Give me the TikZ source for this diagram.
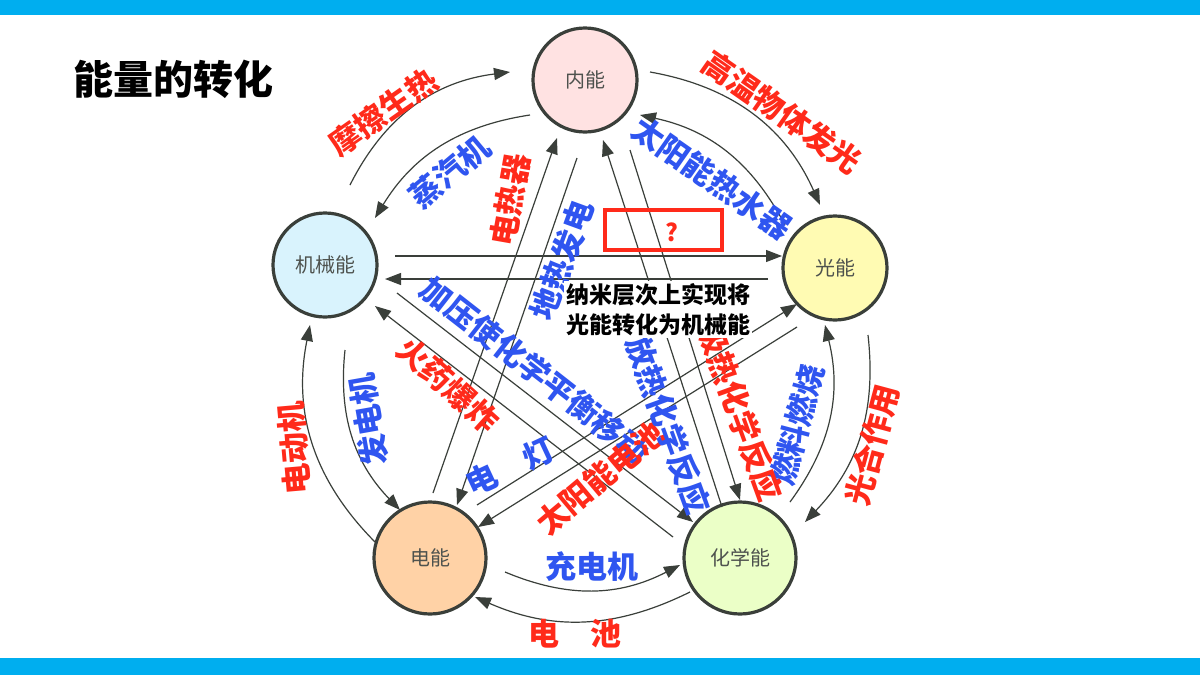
\documentclass[tikz,border=0pt]{standalone}
\usepackage{fontspec}
\setmainfont{Noto Sans CJK SC}
\usetikzlibrary{arrows.meta}
\definecolor{bar}{HTML}{00AEEF}
\definecolor{lr}{HTML}{FF2A1A}
\definecolor{lb}{HTML}{2F55F0}
\definecolor{ln}{HTML}{3A3F3A}
\tikzset{
  en/.style={circle,draw=ln,line width=1.6pt,minimum size=52pt,inner sep=0pt,font=\fontsize{10}{12}\selectfont,text=ln!90},
  arr/.style={draw=ln,line width=0.6pt,-{Triangle[length=8pt,width=6pt]}},
  rl/.style={text=lr,font=\fontsize{15.5}{16}\selectfont\bfseries},
  bl/.style={text=lb,font=\fontsize{15.5}{16}\selectfont\bfseries},
}
\begin{document}
\begin{tikzpicture}[x=0.5pt,y=-0.5pt]
\useasboundingbox (0,0) rectangle (1200,675);
\fill[white] (0,0) rectangle (1200,675);
\fill[bar] (0,0) rectangle (1200,15);
\fill[bar] (0,658) rectangle (1200,675);
\node[anchor=west,font=\fontsize{20}{22}\selectfont\bfseries] (title) at (66,79) {能量的转化};
% energy nodes
\node[en,fill=pink!45] (nei) at (585,80) {内能};
\node[en,fill=cyan!15] (ji) at (325,265) {机械能};
\node[en,fill=yellow!30] (guang) at (835,268) {光能};
\node[en,fill=orange!35,minimum size=56pt] (dian) at (430,558) {电能};
\node[en,fill=green!35!yellow!22,minimum size=56pt] (hua) at (740,558) {化学能};
% coordinates
\coordinate (a1) at (350,185); \coordinate (a2) at (510,72);
\coordinate (b1) at (530,115); \coordinate (b2) at (375,218);
\coordinate (c1) at (650,72); \coordinate (c2) at (820,205);
\coordinate (d1) at (785,225); \coordinate (d2) at (640,115);
\coordinate (e1) at (868,335); \coordinate (e2) at (805,522);
\coordinate (f1) at (790,502); \coordinate (f2) at (825,325);
\coordinate (g1) at (690,592); \coordinate (g2) at (475,597);
\coordinate (h1) at (505,572); \coordinate (h2) at (680,565);
\coordinate (i1) at (375,542); \coordinate (i2) at (310,325);
\coordinate (j1) at (345,350); \coordinate (j2) at (400,510);
% arcs
\draw[arr] (a1) to[bend left=28] (a2);
\draw[arr] (b1) to[bend right=25] (b2);
\draw[arr] (c1) to[bend left=28] (c2);
\draw[arr] (d1) to[bend right=25] (d2);
\draw[arr] (e1) to[bend left=25] (e2);
\draw[arr] (f1) to[bend right=25] (f2);
\draw[arr] (g1) to[bend left=25] (g2);
\draw[arr] (h1) to[bend right=25] (h2);
\draw[arr] (i1) to[bend left=28] (i2);
\draw[arr] (j1) to[bend right=25] (j2);
% straight
\coordinate (s1) at (395,256); \coordinate (s2) at (782,256);
\coordinate (t1) at (768,279); \coordinate (t2) at (385,279);
\draw[arr] (s1) -- (s2);
\draw[arr] (t1) -- (t2);
\coordinate (u1) at (433,493); \coordinate (u2) at (557,138);
\coordinate (v1) at (577,158); \coordinate (v2) at (457,505);
\draw[arr] (u1) -- (u2);
\draw[arr] (v1) -- (v2);
\coordinate (w1) at (722,507); \coordinate (w2) at (603,140);
\coordinate (x1) at (630,150); \coordinate (x2) at (740,500);
\draw[arr] (w1) -- (w2);
\draw[arr] (x1) -- (x2);
\coordinate (y1) at (397,293); \coordinate (y2) at (693,522);
\coordinate (z1) at (673,537); \coordinate (z2) at (375,306);
\draw[arr] (y1) -- (y2);
\draw[arr] (z1) -- (z2);
\coordinate (p1) at (477,505); \coordinate (p2) at (797,304);
\coordinate (q1) at (797,327); \coordinate (q2) at (478,527);
\draw[arr] (p1) -- (p2);
\draw[arr] (q1) -- (q2);
% question box
\draw[lr,line width=2pt] (605,210) rectangle (722,250);
\node[text=lr,font=\fontsize{12}{12}\selectfont\bfseries] (qm) at (672,232) {?};
% labels
\node[rl,rotate=35] (l1) at (383,112) {摩擦生热};
\node[bl,rotate=40] (l2) at (450,172) {蒸汽机};
\node[rl,rotate=-35] (l3) at (782,112) {高温物体发光};
\node[bl,rotate=-35] (l4) at (712,178) {太阳能热水器};
\node[rl,rotate=75] (l5) at (872,445) {光合作用};
\node[bl,rotate=75] (l6) at (797,425) {燃料燃烧};
\node[rl,rotate=95] (l7) at (294,448) {电动机};
\node[bl,rotate=100] (l8) at (368,420) {发电机};
\node[rl,rotate=80] (l9) at (510,200) {电热器};
\node[bl,rotate=70] (l10) at (562,260) {地热发电};
\node[bl,rotate=-38] (l11) at (535,370) {加压使化学平衡移动};
\node[rl,rotate=-42] (l12) at (448,385) {火药爆炸};
\node[bl,rotate=25] (l13) at (510,466) {电\quad 灯};
\node[rl,rotate=40] (l14) at (600,478) {太阳能电池};
\node[bl,rotate=-70] (l15) at (668,425) {放热化学反应};
\node[rl,rotate=-70] (l16) at (740,412) {吸热化学反应};
\node[bl] (l17) at (592,567) {充电机};
\node[rl] (l18) at (575,634) {电\quad 池};
\node[fill=white,inner sep=1pt,align=left,anchor=north west,font=\fontsize{11.5}{15}\selectfont\bfseries] (nano) at (564,281) {纳米层次上实现将\\光能转化为机械能};
\end{tikzpicture}
\end{document}
